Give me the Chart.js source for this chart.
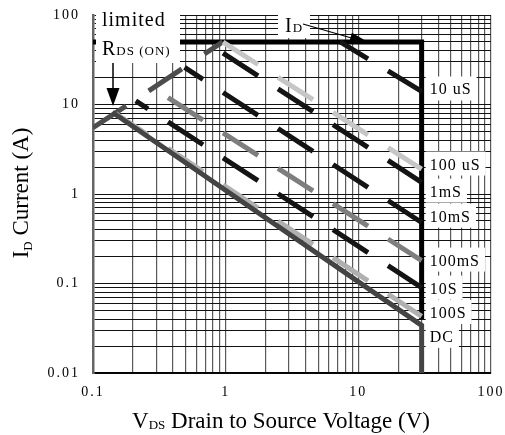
<!DOCTYPE html>
<html lang="en">
<head>
<meta charset="UTF-8" />
<title>Maximum Safe Operating Area</title>
<script src="https://cdn.jsdelivr.net/npm/chart.js"></script>
<style>
  html, body { margin: 0; background: #fff; }
  #wrap { width: 505px; height: 435px; }
</style>
</head>
<body>
<div id="wrap"><canvas id="soa"></canvas></div>
<script>
// values
const xTickLabels = ["0.1", "1", "10", "100"];
const yTickLabels = ["0.01", "0.1", "1", "10", "100"];

// R_DS(on) limit line
const rdsV = [0.1, 0.95];
const rdsI = [5.5, 50];

// I_D limit and V_DS limit
const idLimitV = [0.1, 30, 30];
const idLimitI = [50, 50, 0.04];

// pulse-width lines
const pulseNames = ["10 uS", "100 uS", "1mS", "10mS", "100mS", "10S", "100S", "DC"];
const pulseStartV = [7.3, 0.95, 0.83, 0.49, 0.29, 0.21, 0.148, 0.14];
const pulseStartI = [50, 50, 43, 26, 15, 11, 7.9, 8.2];
const pulseEndV = [30, 30, 30, 30, 30, 30, 30, 30];
const pulseEndI = [14, 1.9, 1.35, 0.48, 0.18, 0.09, 0.043, 0.034];
const dcFloorI = 0.01;

// styles / layout
const SERIF = '"Liberation Serif", "DejaVu Serif", serif';
const pulseColors = ["#141414", "#c6c6c6", "#141414", "#141414", "#7e7e7e", "#141414", "#b0b0b0", "#444444"];
const labelAtI = [15.1, 2.19, 1.09, 0.573, 0.185, 0.09, 0.048, 0.026];
const DASH = { anchor: 0.955, period: 0.4145, on: 0.264 };   // in decades of V
const RDS_DASH = { anchor: 0.1, period: 0.42, on: 0.25 };

function dashFor(ctx, d) {
  const chart = ctx.chart, xs = chart.scales.x, ys = chart.scales.y;
  const pts = ctx.dataset.data;
  if (!xs || !ys) return { dash: [], off: 0 };
  const x0 = xs.getPixelForValue(pts[0].x), y0 = ys.getPixelForValue(pts[0].y);
  const x1 = xs.getPixelForValue(pts[1].x), y1 = ys.getPixelForValue(pts[1].y);
  const decade = xs.getPixelForValue(10) - xs.getPixelForValue(1);
  if (!isFinite(x0) || !isFinite(decade) || decade <= 0 || x1 === x0) return { dash: [], off: 0 };
  const k = Math.hypot(x1 - x0, y1 - y0) / Math.abs(x1 - x0);
  const per = d.period * decade * k, on = d.on * decade * k;
  const dist = (xs.getPixelForValue(d.anchor) - x0) * k;
  let off = (-dist) % per;
  if (off < 0) off += per;
  return { dash: [on, per - on], off: off };
}

function logTicks(lo, hi) {
  const out = [];
  for (let e = Math.round(Math.log10(lo)); e < Math.round(Math.log10(hi)); e++) {
    for (let m = 1; m < 10; m++) out.push({ value: m * Math.pow(10, e) });
  }
  out.push({ value: hi });
  return out;
}

function labelFor(v, labels) {
  const t = labels.find(s => Math.abs(Math.log10(+s) - Math.log10(v)) < 1e-6);
  return t === undefined ? "" : t;
}

const datasets = [];
pulseNames.forEach((name, i) => {
  const isDC = name === "DC";
  const pts = [{ x: pulseStartV[i], y: pulseStartI[i] }, { x: pulseEndV[i], y: pulseEndI[i] }];
  if (isDC) pts.push({ x: pulseEndV[i], y: dcFloorI });
  datasets.push({
    label: name,
    data: pts,
    borderColor: pulseColors[i],
    borderWidth: 5,
    borderDash: isDC ? [] : ctx => dashFor(ctx, DASH).dash,
    borderDashOffset: isDC ? 0 : ctx => dashFor(ctx, DASH).off,
    order: isDC ? 0 : 1
  });
});
datasets.push({
  label: "RDS(ON) limit",
  data: rdsV.map((v, i) => ({ x: v, y: rdsI[i] })),
  borderColor: "#4d4d4d",
  borderWidth: 5,
  borderDash: ctx => dashFor(ctx, RDS_DASH).dash,
  borderDashOffset: ctx => dashFor(ctx, RDS_DASH).off,
  order: 2
});
datasets.push({
  label: "ID limit",
  data: idLimitV.map((v, i) => ({ x: v, y: idLimitI[i] })),
  borderColor: "#000",
  borderWidth: 5,
  borderJoinStyle: "miter",
  order: 3
});

// text helpers
function runs(ctx, parts, x, y) {
  let cx = x;
  parts.forEach(p => {
    ctx.font = p.size + "px " + SERIF;
    ctx.fillText(p.t, cx, y + (p.dy || 0));
    cx += ctx.measureText(p.t).width;
  });
  return cx - x;
}
function runsWidth(ctx, parts) {
  let w = 0;
  parts.forEach(p => { ctx.font = p.size + "px " + SERIF; w += ctx.measureText(p.t).width; });
  return w;
}
function whiteBox(ctx, x, y, w, h) {
  ctx.fillStyle = "#fff";
  ctx.fillRect(x, y, w, h);
  ctx.fillStyle = "#000";
}
function arrowHead(ctx, tx, ty, ang, len, wid) {
  ctx.beginPath();
  ctx.moveTo(tx, ty);
  ctx.lineTo(tx - len * Math.cos(ang) + wid / 2 * Math.sin(ang), ty - len * Math.sin(ang) - wid / 2 * Math.cos(ang));
  ctx.lineTo(tx - len * Math.cos(ang) - wid / 2 * Math.sin(ang), ty - len * Math.sin(ang) + wid / 2 * Math.cos(ang));
  ctx.closePath();
  ctx.fill();
}

const spacing = {
  id: "spacing",
  beforeDraw(chart) { chart.ctx.letterSpacing = "2px"; },
  afterDraw(chart) { chart.ctx.letterSpacing = "0px"; }
};

const notes = {
  id: "notes",
  afterDatasetsDraw(chart) {
    const ctx = chart.ctx, a = chart.chartArea;
    const xs = chart.scales.x, ys = chart.scales.y;
    ctx.save();
    ctx.letterSpacing = "1px";
    ctx.textBaseline = "alphabetic";
    ctx.textAlign = "left";

    // R_DS(on) limited note
    whiteBox(ctx, a.left + 3, a.top, 84, 48);
    ctx.fillStyle = "#000";
    runs(ctx, [{ t: "limited", size: 20 }], a.left + 9, a.top + 11);
    runs(ctx, [{ t: "R", size: 20 }, { t: "DS", size: 13 }, { t: " (ON)", size: 13 }], a.left + 9, a.top + 40);
    ctx.strokeStyle = "#000";
    ctx.lineWidth = 1.5;
    ctx.beginPath();
    ctx.moveTo(a.left + 20, a.top + 48);
    ctx.lineTo(a.left + 20, a.top + 76);
    ctx.stroke();
    arrowHead(ctx, a.left + 20, a.top + 91, Math.PI / 2, 18, 13);

    // I_D note
    whiteBox(ctx, a.left + 185, a.top, 32, 23);
    runs(ctx, [{ t: "I", size: 20 }, { t: "D", size: 13 }], a.left + 192, a.top + 17);
    ctx.lineWidth = 1.3;
    ctx.beginPath();
    ctx.moveTo(a.left + 210, a.top + 9);
    ctx.lineTo(a.left + 262, a.top + 24);
    ctx.stroke();
    arrowHead(ctx, a.left + 275, a.top + 27, Math.atan2(18, 64), 18, 9);

    // pulse labels at the V_DS limit
    const lx = xs.getPixelForValue(30);
    pulseNames.forEach((name, i) => {
      const y = ys.getPixelForValue(labelAtI[i]);
      const parts = [{ t: name, size: 16 }];
      const w = runsWidth(ctx, parts);
      whiteBox(ctx, lx + 4, y - 12, w + 9, 24);
      runs(ctx, parts, lx + 8, y + 6);
    });
    ctx.restore();
  },
  afterDraw(chart) {
    const ctx = chart.ctx, a = chart.chartArea;
    ctx.save();
    ctx.letterSpacing = "0px";
    ctx.fillStyle = "#000";
    ctx.textBaseline = "alphabetic";
    ctx.textAlign = "left";
    const xt = [{ t: "V", size: 23 }, { t: "DS", size: 13, dy: 1 }, { t: " Drain to Source Voltage (V)", size: 23 }];
    const wx = runsWidth(ctx, xt);
    runs(ctx, xt, a.left + 188 - wx / 2, 428);
    const yt = [{ t: "I", size: 23 }, { t: "D", size: 13, dy: 4 }, { t: " Current (A)", size: 23 }];
    const wy = runsWidth(ctx, yt);
    ctx.translate(28, a.top + 178);
    ctx.rotate(-Math.PI / 2);
    runs(ctx, yt, -wy / 2, 0);
    ctx.restore();
  }
};

const tickFont = { family: SERIF, size: 14 };

new Chart(document.getElementById("soa"), {
  type: "line",
  data: { datasets: datasets },
  options: {
    responsive: true,
    maintainAspectRatio: false,
    animation: false,
    events: [],
    layout: { padding: { left: 0, right: 14, top: 15, bottom: 0 } },
    elements: {
      point: { radius: 0 },
      line: { tension: 0, fill: false, borderCapStyle: "butt" }
    },
    plugins: { legend: { display: false }, tooltip: { enabled: false } },
    scales: {
      x: {
        type: "logarithmic",
        min: 0.1,
        max: 100,
        afterBuildTicks: s => { s.ticks = logTicks(0.1, 100); },
        afterFit: s => { s.height = 62; s.paddingLeft = 8; s.paddingRight = 10; },
        ticks: {
          autoSkip: false,
          maxRotation: 0,
          padding: 11,
          color: "#000",
          font: tickFont,
          callback: v => labelFor(v, xTickLabels)
        },
        grid: { color: "#5a5a5a", lineWidth: 1.2, drawTicks: false },
        border: { color: "#000", width: 1.5 }
      },
      y: {
        type: "logarithmic",
        min: 0.01,
        max: 100,
        afterBuildTicks: s => { s.ticks = logTicks(0.01, 100); },
        afterFit: s => { s.width = 93; s.paddingTop = 8; s.paddingBottom = 8; },
        ticks: {
          autoSkip: false,
          padding: 13,
          color: "#000",
          font: tickFont,
          callback: v => labelFor(v, yTickLabels)
        },
        grid: { color: "#111", lineWidth: 1, drawTicks: false },
        border: { color: "#666", width: 2.5 }
      }
    }
  },
  plugins: [spacing, notes]
});
</script>
</body>
</html>
